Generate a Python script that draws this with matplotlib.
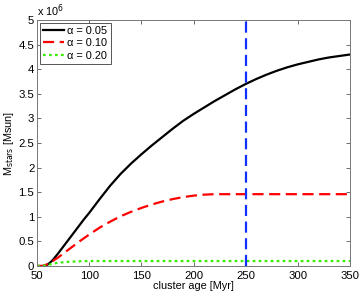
import matplotlib
matplotlib.use("Agg")
import matplotlib.pyplot as plt

plt.rcParams['font.family'] = ['Liberation Sans', 'DejaVu Sans']

# cluster age [Myr] and stellar mass [10^6 Msun]
age_a = [50, 56, 58, 60, 62, 65, 70, 75, 80, 85, 90, 95, 100, 110, 120, 130, 140,
         150, 160, 170, 180, 190, 200, 210, 220, 230, 240, 250, 260, 270, 280, 290,
         300, 310, 320, 330, 340, 350]
mass_a005 = [0, 0, 0.01, 0.03, 0.06, 0.12, 0.25, 0.39, 0.53, 0.67, 0.81, 0.95, 1.08,
             1.36, 1.63, 1.87, 2.08, 2.27, 2.45, 2.62, 2.79, 2.95, 3.09, 3.22, 3.35,
             3.47, 3.59, 3.70, 3.80, 3.89, 3.97, 4.04, 4.10, 4.15, 4.20, 4.24, 4.27, 4.30]

age_b = [50, 55, 58, 60, 65, 70, 75, 80, 90, 100, 110, 120, 130, 140, 150, 160, 170,
         180, 190, 200, 210, 220, 350]
mass_a010 = [0, 0, 0.02, 0.04, 0.10, 0.17, 0.25, 0.33, 0.49, 0.64, 0.78, 0.90, 1.01,
             1.10, 1.18, 1.25, 1.31, 1.36, 1.40, 1.43, 1.45, 1.46, 1.46]

age_c = [50, 55, 60, 65, 70, 80, 90, 100, 350]
mass_a020 = [0, 0, 0.02, 0.045, 0.065, 0.085, 0.095, 0.1, 0.1]

t_mark = 250

fig = plt.figure(figsize=(3.6, 2.91), dpi=100)
ax = fig.add_axes([0.103, 0.086, 0.869, 0.845])

ax.plot(age_a, mass_a005, color='black', lw=1.6, label='α = 0.05')
ax.plot(age_b, mass_a010, color='red', lw=1.6, dashes=(5, 2.5), label='α = 0.10')
ax.plot(age_c, mass_a020, color='#33ee00', lw=1.6, dashes=(1.2, 1.5), label='α = 0.20')
ax.plot([t_mark, t_mark], [0, 5], color='#1030ff', lw=1.6, dashes=(5, 2.5))

ax.set_xlim(50, 350)
ax.set_ylim(0, 5)
ax.set_xticks(range(50, 351, 50))
ax.set_yticks([0, 0.5, 1, 1.5, 2, 2.5, 3, 3.5, 4, 4.5, 5])
ax.set_yticklabels(['0', '0.5', '1', '1.5', '2', '2.5', '3', '3.5', '4', '4.5', '5'])
ax.tick_params(direction='in', length=3, width=0.6, labelsize=8.2,
               top=True, right=True, color='#555555')
ax.tick_params(axis='x', pad=3.5)
ax.tick_params(axis='y', pad=2)
for s in ax.spines.values():
    s.set_color('#777777')
    s.set_linewidth(0.7)

ax.set_xlabel('cluster age [Myr]', fontsize=7.8, labelpad=0)
ax.set_ylabel(r'M$_{\rm stars}$ [Msun]', fontsize=7.8, labelpad=2)
ax.text(0.0, 1.005, r'x 10$^6$', transform=ax.transAxes, fontsize=7.8,
        ha='left', va='bottom')

leg = ax.legend(loc='upper left', fontsize=7.9, handlelength=1.9, handletextpad=0.3,
                borderpad=0.3, labelspacing=0.2, fancybox=False,
                borderaxespad=0.25, framealpha=1)
leg.get_frame().set_edgecolor('#555555')
leg.get_frame().set_linewidth(0.7)

fig.savefig('out.png', dpi=100)
